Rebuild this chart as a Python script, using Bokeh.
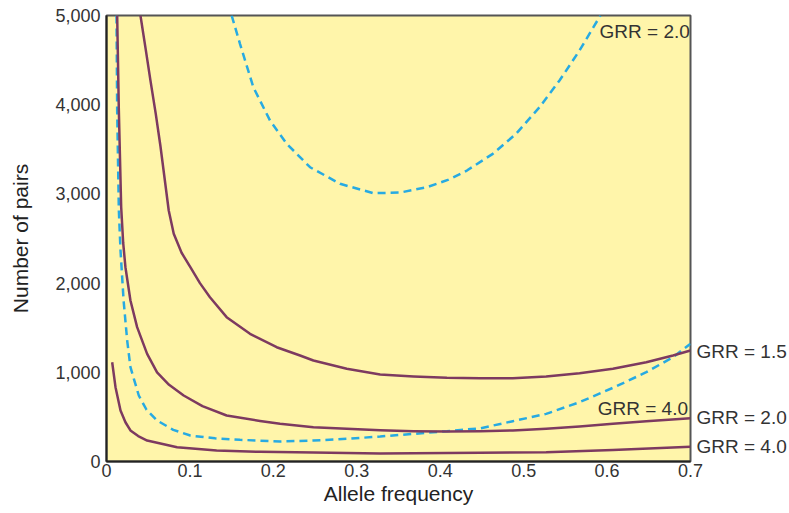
from bokeh.plotting import figure
from bokeh.models import Range1d, FixedTicker, NumeralTickFormatter, Label, LinearAxis
from bokeh.embed import file_html
from bokeh.resources import INLINE

# ---- data ----
x_ticks = [0, 0.1, 0.2, 0.3, 0.4, 0.5, 0.6, 0.7]
x_tick_labels = ["0", "0.1", "0.2", "0.3", "0.4", "0.5", "0.6", "0.7"]
y_ticks = [0, 1000, 2000, 3000, 4000, 5000]

# solid curves
solid15_x = [0.0407, 0.047, 0.0527, 0.059, 0.0646, 0.0746, 0.0806, 0.090, 0.1005, 0.112,
             0.124, 0.144, 0.172, 0.204, 0.232, 0.248, 0.288, 0.328, 0.368, 0.408, 0.448, 0.487,
             0.527, 0.567, 0.607, 0.647, 0.679, 0.7]
solid15_y = [5000, 4620, 4270, 3900, 3540, 2814, 2553, 2340, 2178, 2000,
             1842, 1618, 1432, 1281, 1188, 1132, 1039, 975, 953, 938, 932, 934,
             953, 990, 1039, 1113, 1188, 1244]

solid20_x = [0.0128, 0.0148, 0.0176, 0.0200, 0.0227, 0.0287, 0.0367, 0.0487, 0.0606, 0.075, 0.0925,
             0.115, 0.144, 0.184, 0.208, 0.248, 0.288, 0.328, 0.368, 0.408, 0.448, 0.487, 0.527,
             0.567, 0.607, 0.647, 0.7]
solid20_y = [5000, 3935, 2850, 2450, 2178, 1805, 1506, 1207, 1000, 860, 740,
             620, 516, 455, 422, 385, 366, 350, 340, 336, 340, 348, 366,
             392, 422, 452, 486]

solid40_x = [0.0068, 0.0108, 0.0168, 0.0227, 0.0287, 0.038, 0.0487, 0.0846, 0.132, 0.184, 0.248,
             0.288, 0.328, 0.368, 0.448, 0.527, 0.607, 0.7]
solid40_y = [1113, 833, 572, 440, 348, 285, 235, 160, 123, 108, 102,
             95, 90, 92, 97, 104, 128, 165]

# dashed curves
dash20_x = [0.150, 0.160, 0.176, 0.196, 0.216, 0.244, 0.280, 0.320, 0.352, 0.384, 0.410, 0.432,
            0.463, 0.491, 0.519, 0.543, 0.567, 0.592]
dash20_y = [5000, 4683, 4196, 3823, 3562, 3299, 3113, 3008, 3015, 3075, 3160, 3262,
            3449, 3674, 3972, 4271, 4608, 5000]

dash40_x = [0.012, 0.0128, 0.0148, 0.0168, 0.0205, 0.0248, 0.0287, 0.0327, 0.0387, 0.048, 0.0606,
            0.080, 0.1005, 0.130, 0.160, 0.208, 0.248, 0.288, 0.328, 0.368, 0.408, 0.448, 0.487,
            0.527, 0.567, 0.607, 0.647, 0.679, 0.7]
dash40_y = [5000, 3935, 2814, 2365, 1805, 1356, 1057, 930, 740, 580, 460,
            355, 291, 260, 243, 225, 235, 254, 280, 310, 340, 372, 452,
            534, 665, 826, 1001, 1169, 1320]

# end-of-curve labels outside the frame (value = y position of the curve end)
right_label_pos = [1233, 493, 168]
right_label_text = ["GRR = 1.5", "GRR = 2.0", "GRR = 4.0"]

# ---- styles ----
PURPLE = "#7d3a60"
BLUE = "#27aae2"
BG = "#fff5aa"
FONT = "Liberation Sans"

p = figure(width=789, height=513, output_backend="svg", toolbar_location=None,
           x_range=Range1d(0, 0.7), y_range=Range1d(0, 5000),
           min_border_left=106, min_border_right=98, min_border_top=15, min_border_bottom=52)
p.background_fill_color = BG
p.border_fill_color = "white"
p.outline_line_color = "#555555"
p.outline_line_width = 2
p.grid.visible = False

p.xaxis.ticker = FixedTicker(ticks=x_ticks)
p.xaxis.major_label_overrides = {t: l for t, l in zip(x_ticks, x_tick_labels)}
p.yaxis.ticker = FixedTicker(ticks=y_ticks)
p.yaxis.formatter = NumeralTickFormatter(format="0,0")
p.xaxis.axis_label = "Allele frequency"
p.yaxis.axis_label = "Number of pairs"

for ax in (p.xaxis, p.yaxis):
    ax.axis_line_color = "#222222"
    ax.axis_line_width = 2
    ax.major_tick_line_color = None
    ax.minor_tick_line_color = None
    ax.major_tick_out = 0
    ax.major_tick_in = 0
    ax.major_label_text_font = FONT
    ax.major_label_text_font_size = "18px"
    ax.major_label_text_color = "#333333"
    ax.axis_label_text_font = FONT
    ax.axis_label_text_font_size = "21px"
    ax.axis_label_text_font_style = "normal"
    ax.axis_label_text_color = "#222222"

p.xaxis.major_label_standoff = 2
p.yaxis.major_label_standoff = 6
p.xaxis.axis_label_standoff = 2
p.yaxis.axis_label_standoff = 20

right_axis = LinearAxis(ticker=FixedTicker(ticks=right_label_pos),
                        major_label_overrides={v: t for v, t in zip(right_label_pos, right_label_text)})
right_axis.axis_line_color = None
right_axis.major_tick_line_color = None
right_axis.minor_tick_line_color = None
right_axis.major_tick_out = 0
right_axis.major_tick_in = 0
right_axis.major_label_standoff = 6
right_axis.major_label_text_font = FONT
right_axis.major_label_text_font_size = "19px"
right_axis.major_label_text_color = "#333333"
p.add_layout(right_axis, "right")

p.line(dash20_x, dash20_y, line_color=BLUE, line_width=2.5, line_dash="8 5")
p.line(dash40_x, dash40_y, line_color=BLUE, line_width=2.5, line_dash="8 5")
for xs, ys in ((solid15_x, solid15_y), (solid20_x, solid20_y), (solid40_x, solid40_y)):
    p.line(xs, ys, line_color=PURPLE, line_width=2.5, line_join="round")

inner_labels = [
    ("GRR = 2.0", 0.591, 4820, "left"),
    ("GRR = 4.0", 0.697, 594, "right"),
]
for txt, lx, ly, align in inner_labels:
    p.add_layout(Label(x=lx, y=ly, text=txt, text_align=align,
                       text_baseline="middle", text_font=FONT, text_font_size="19px",
                       text_color="#333333"))

open("out.html", "w").write(file_html(p, INLINE))
